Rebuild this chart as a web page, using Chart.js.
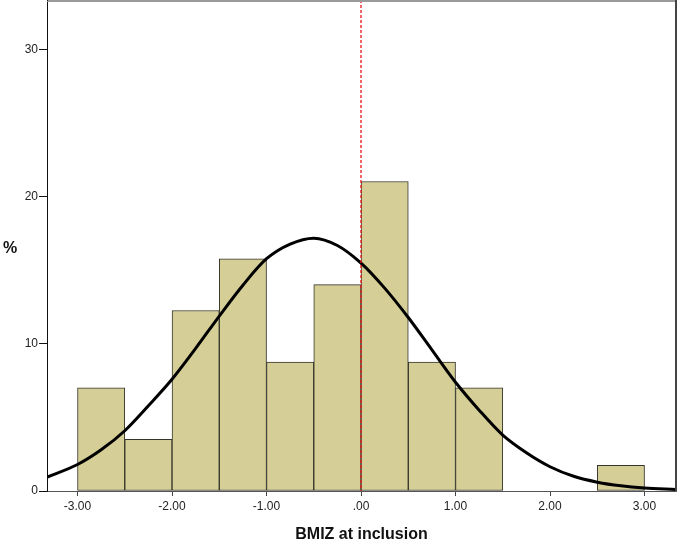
<!DOCTYPE html>
<html>
<head>
<meta charset="utf-8">
<script src="https://cdn.jsdelivr.net/npm/chart.js@4"></script>
<style>
html,body{margin:0;padding:0;background:#fff;}
#wrap{position:relative;width:677px;height:544px;}
</style>
</head>
<body>
<div id="wrap"><canvas id="c" width="677" height="544"></canvas></div>
<script>
// ---- data ----
const binCenters = [-2.75, -2.25, -1.75, -1.25, -0.75, -0.25, 0.25, 0.75, 1.25, 1.75, 2.25, 2.75];
const binPercents = [7.02, 3.51, 12.28, 15.79, 8.77, 14.04, 21.05, 8.77, 7.02, 0, 0, 1.75];

const curveX = [-3.32, -3.0, -2.75, -2.5, -2.25, -2.0, -1.75, -1.5, -1.25, -1.0, -0.75, -0.5, -0.25, 0.0, 0.25, 0.5, 0.75, 1.0, 1.25, 1.5, 1.75, 2.0, 2.25, 2.5, 2.75, 3.0, 3.33];
const curveY = [0.95, 1.8, 2.8, 4.1, 5.8, 7.6, 9.7, 11.9, 14.0, 15.8, 16.8, 17.2, 16.7, 15.5, 13.8, 11.8, 9.6, 7.4, 5.5, 3.8, 2.6, 1.65, 1.0, 0.6, 0.35, 0.2, 0.1];

const xTickValues = [-3, -2, -1, 0, 1, 2, 3];
const xTickLabels = ["-3.00", "-2.00", "-1.00", ".00", "1.00", "2.00", "3.00"];
const yTickValues = [0, 10, 20, 30];
const yTickLabels = ["0", "10", "20", "30"];
const refLineX = 0;

const xTitle = "BMIZ at inclusion";
const yTitle = "%";

const xMin = -3.323, xMax = 3.333;
const yMin = 0, yMax = 33.33;

// ---- plugins ----
const framePlugin = {
  id: 'frame',
  afterDatasetsDraw(chart) {
    const {ctx, chartArea: a, scales} = chart;
    const px = scales.x.getPixelForValue(refLineX);
    ctx.save();
    ctx.strokeStyle = 'rgb(235,20,20)';
    ctx.lineWidth = 1.3;
    ctx.setLineDash([3, 2]);
    ctx.beginPath();
    ctx.moveTo(Math.round(px), 0);
    ctx.lineTo(Math.round(px), a.bottom);
    ctx.stroke();
    ctx.restore();
  },
  afterDraw(chart) {
    const {ctx, chartArea: a} = chart;
    ctx.save();
    ctx.lineWidth = 2;
    ctx.strokeStyle = '#9a9a9a';
    ctx.beginPath();
    ctx.moveTo(a.left, 1);
    ctx.lineTo(chart.width, 1);
    ctx.stroke();
    ctx.strokeStyle = '#444';
    ctx.beginPath();
    ctx.moveTo(chart.width - 1, 0);
    ctx.lineTo(chart.width - 1, a.bottom);
    ctx.stroke();
    ctx.strokeStyle = '#111';
    ctx.lineWidth = 1;
    ctx.beginPath();
    ctx.moveTo(Math.round(a.left) + 0.5, 0);
    ctx.lineTo(Math.round(a.left) + 0.5, a.top);
    ctx.stroke();
    ctx.fillStyle = '#111';
    ctx.font = 'bold 16px "Liberation Sans", Arial, sans-serif';
    ctx.textAlign = 'center';
    ctx.textBaseline = 'middle';
    ctx.fillText(yTitle, 10, 249);
    ctx.restore();
  }
};

new Chart(document.getElementById('c'), {
  data: {
    datasets: [
      {
        type: 'line',
        data: curveX.map((x, i) => ({x: x, y: curveY[i]})),
        borderColor: '#000',
        borderWidth: 3,
        pointRadius: 0,
        tension: 0.4,
        cubicInterpolationMode: 'monotone',
        fill: false,
        order: 0
      },
      {
        type: 'bar',
        data: binCenters.map((x, i) => ({x: x, y: binPercents[i]})),
        backgroundColor: 'rgb(213,206,150)',
        borderColor: '#34342a',
        borderWidth: 1,
        borderSkipped: false,
        barPercentage: 1,
        categoryPercentage: 1,
        order: 1
      }
    ]
  },
  options: {
    responsive: false,
    animation: false,
    devicePixelRatio: 1,
    layout: {padding: {top: 1, right: 1, left: 0, bottom: 0}},
    plugins: {legend: {display: false}, tooltip: {enabled: false}},
    scales: {
      x: {
        type: 'linear',
        min: xMin, max: xMax,
        offset: false,
        afterFit(s) { s.height = 53; s.paddingLeft = 0; s.paddingRight = 0; },
        afterBuildTicks(s) { s.ticks = xTickValues.map(v => ({value: v})); },
        ticks: {
          callback: (v) => xTickLabels[xTickValues.indexOf(v)],
          font: {family: '"Liberation Sans", Arial, sans-serif', size: 12},
          color: '#222',
          padding: 3,
          maxRotation: 0,
          autoSkip: false
        },
        grid: {drawOnChartArea: false, offset: false, tickLength: 5, tickColor: '#444', lineWidth: 1},
        border: {color: '#555', width: 1},
        title: {
          display: true,
          text: xTitle,
          font: {family: '"Liberation Sans", Arial, sans-serif', size: 16, weight: 'bold'},
          color: '#111',
          padding: {top: 4, bottom: 0}
        }
      },
      y: {
        type: 'linear',
        min: yMin, max: yMax,
        afterFit(s) { s.width = 47; s.paddingTop = 0; s.paddingBottom = 0; },
        afterBuildTicks(s) { s.ticks = yTickValues.map(v => ({value: v})); },
        ticks: {
          callback: (v) => yTickLabels[yTickValues.indexOf(v)],
          font: {family: '"Liberation Sans", Arial, sans-serif', size: 12},
          color: '#222',
          padding: 1
        },
        grid: {drawOnChartArea: false, tickLength: 8, tickColor: '#111', lineWidth: 1},
        border: {color: '#111', width: 1}
      }
    }
  },
  plugins: [framePlugin]
});
</script>
</body>
</html>
